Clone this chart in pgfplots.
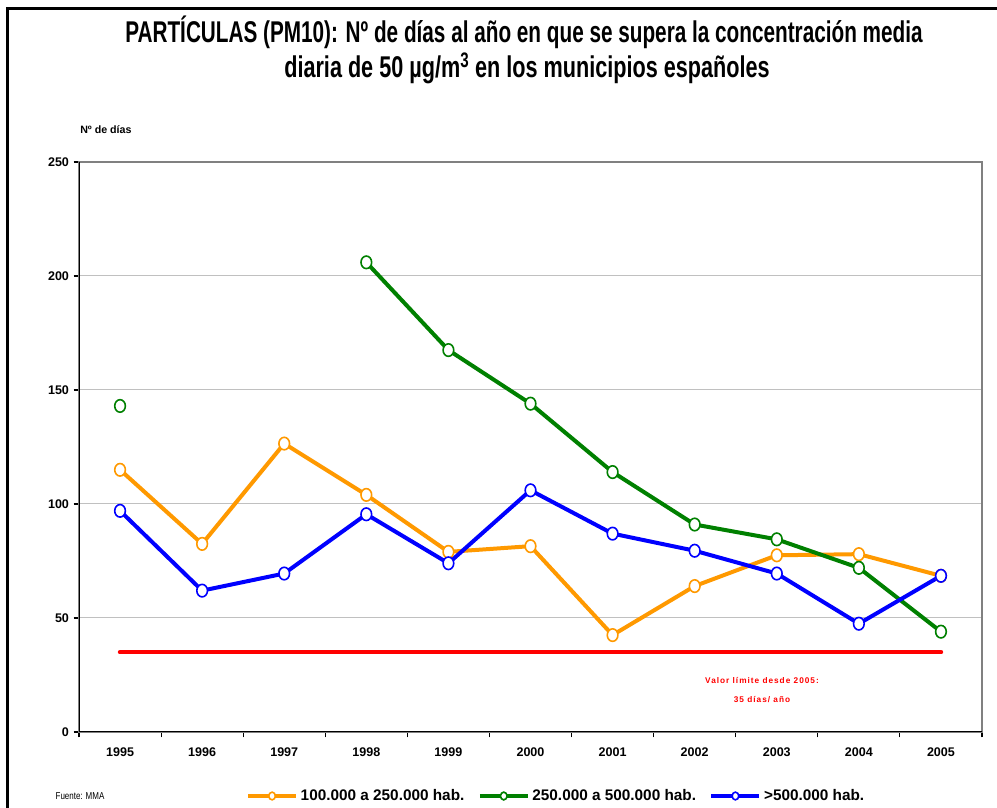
\documentclass[border=0pt]{standalone}
\usepackage{fontspec}
\setmainfont{Liberation Sans}
\newfontfamily\redfont[LetterSpace=12]{Liberation Sans}
\usepackage{graphicx}
\usepackage{pgfplots}
\pgfplotsset{compat=1.18}
\definecolor{orng}{HTML}{FF9900}
\definecolor{grn}{HTML}{008000}
\definecolor{blu}{HTML}{0000FF}
\definecolor{rd}{HTML}{FF0000}
\definecolor{bordergray}{HTML}{808080}
\definecolor{gridgray}{HTML}{C0C0C0}
\begin{document}
\begin{tikzpicture}
\begin{scope}[x=0.75pt,y=0.75pt]
\useasboundingbox (0,0) rectangle (997,805);
\draw[line width=2.25pt] (7,-20) -- (7,796) -- (1020,796);
\node[anchor=base,inner sep=0pt] at (524,762) {\resizebox{598pt}{\height}{\bfseries\fontsize{22.5}{26}\selectfont PARTÍCULAS (PM10): Nº de días al año en que se supera la concentración media}};
\node[anchor=base,inner sep=0pt] at (527,727) {\resizebox{364pt}{\height}{\bfseries\fontsize{22.5}{26}\selectfont diaria de 50 µg/m\textsuperscript{3} en los municipios españoles}};
\node[anchor=base west,inner sep=0pt] at (80,671) {\bfseries\fontsize{8}{9}\selectfont Nº de días};
\node[inner sep=0pt] at (80,9) {\scalebox{0.8}[1]{\fontsize{7.5}{8}\selectfont Fuente: MMA}};
\node[inner sep=0pt,text=rd] at (762,124) {\redfont\bfseries\fontsize{6.2}{7}\selectfont Valor límite desde 2005:};
\node[inner sep=0pt,text=rd] at (762,105) {\redfont\bfseries\fontsize{6.2}{7}\selectfont 35 días/ año};
\end{scope}
\begin{axis}[
 at={(59.25pt,54.75pt)}, anchor=south west,
 scale only axis, width=677.25pt, height=427.5pt,
 xmin=-0.5, xmax=10.5, ymin=0, ymax=250,
 xtick={0,...,10}, xticklabels={1995,1996,1997,1998,1999,2000,2001,2002,2003,2004,2005},
 minor xtick={-0.5,0.5,...,10.5},
 ytick={0,50,...,250},
 tick align=outside, tick pos=left,
 major tick length=4pt, minor tick length=4pt,
 major x tick style={draw=none},
 minor x tick style={draw=black, line width=0.8pt},
 y tick style={draw=black, line width=0.8pt},
 ymajorgrids, grid style={gridgray, line width=0.75pt},
 axis line style={bordergray, line width=1.5pt},
 tick label style={font=\bfseries\fontsize{9.4}{11}\selectfont},
 xticklabel style={yshift=-4pt},
 /pgf/number format/assume math mode=true,
 unbounded coords=jump,
 legend columns=3,
 legend style={at={(0.5288,-0.1123)}, anchor=center, draw=none, fill=none,
   font=\bfseries\fontsize{11.5}{13}\selectfont,
   /tikz/every even column/.append style={column sep=8pt}},
 legend image code/.code={\draw[mark repeat=2,mark phase=2,#1,mark size=2.9pt] plot coordinates {(0pt,0pt) (18pt,0pt) (36pt,0pt)};},
]
\addplot[rd, line width=3.4pt, line cap=round, forget plot] coordinates {(0,35) (10,35)};
\addplot[orng, line width=3pt, mark=*, mark size=4.7pt, mark options={fill=white, draw=orng, line width=1.2pt, xscale=0.85, solid}]
 coordinates {(0,115) (1,82.5) (2,126.5) (3,104) (4,79) (5,81.5) (6,42.5) (7,64) (8,77.5) (9,78) (10,68.5)};
\addlegendentry{100.000 a 250.000 hab.}
\addplot[grn, line width=3pt, mark=*, mark size=4.7pt, mark options={fill=white, draw=grn, line width=1.2pt, xscale=0.85, solid}]
 coordinates {(0,143) (1,nan) (2,nan) (3,206) (4,167.5) (5,144) (6,114) (7,91) (8,84.5) (9,72) (10,44)};
\addlegendentry{250.000 a 500.000 hab.}
\addplot[blu, line width=3pt, mark=*, mark size=4.7pt, mark options={fill=white, draw=blu, line width=1.2pt, xscale=0.85, solid}]
 coordinates {(0,97) (1,62) (2,69.5) (3,95.5) (4,74) (5,106) (6,87) (7,79.5) (8,69.5) (9,47.5) (10,68.5)};
\addlegendentry{>500.000 hab.}
\draw[black, line width=1.2pt] (rel axis cs:0,1) -- (rel axis cs:0,0) -- (rel axis cs:1,0);
\end{axis}
\end{tikzpicture}
\end{document}
